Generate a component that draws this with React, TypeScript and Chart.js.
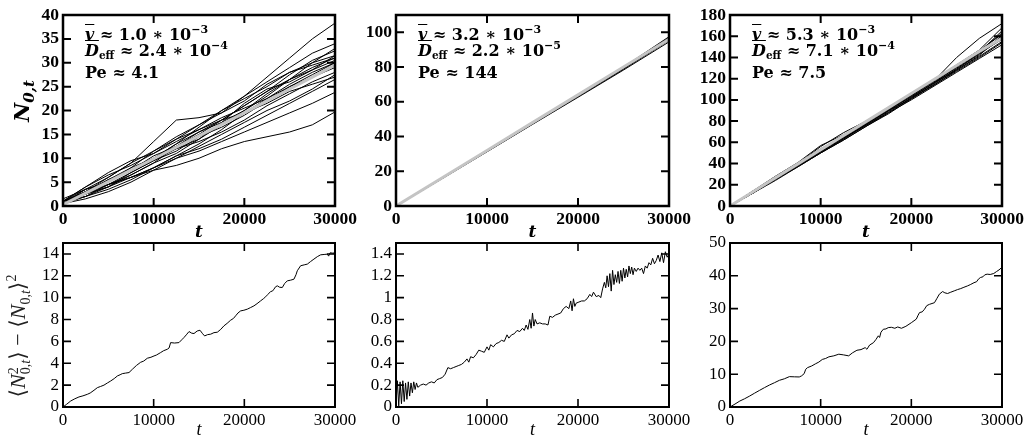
import React, { useEffect, useRef } from "react";
import { Chart, registerables } from "chart.js";
Chart.register(...registerables);

const W = 1029;
const H = 436;

// ---------- data ----------
const X_TICKS = [0, 10000, 20000, 30000];
const T_COARSE = [0, 2500, 5000, 7500, 10000, 12500, 15000, 17500, 20000, 22500, 25000, 27500, 30000];
const T_MID = [0, 5000, 10000, 15000, 20000, 25000, 30000];

const TL_MEAN = [0.3, 2.7, 5.1, 7.5, 9.9, 12.3, 14.7, 17.1, 19.5, 22, 24.5, 27, 29.5];
const TL_RUNS = [
  [0.5, 3, 6, 9, 13.5, 18, 18.5, 19.5, 23, 27, 31, 35, 38.3],
  [1, 4, 6.5, 8.5, 11, 14, 17, 20, 23, 26, 29, 32, 34],
  [0.5, 3.5, 5, 8, 10, 13, 16.5, 20, 22.5, 25, 28, 30, 33],
  [1, 2.5, 5.5, 7.5, 10.5, 12.5, 15, 18, 21, 24, 27.5, 30.5, 32.5],
  [0.5, 2, 4.5, 7, 9.5, 12, 14, 17.5, 21.5, 24.5, 26, 28.5, 31.5],
  [1, 3, 5.5, 8, 11.5, 14.5, 17, 19.5, 22, 25.5, 28, 29.5, 31],
  [0.5, 2.5, 4, 6.5, 9, 11, 14, 17, 20, 23.5, 26.5, 28.5, 30.5],
  [1, 4, 7, 9.5, 11, 13.5, 16, 18.5, 20.5, 22.5, 25, 27.5, 30],
  [0.5, 2, 3.5, 5.5, 8, 10.5, 13, 16, 19.5, 22.5, 25.5, 28, 30],
  [1, 3.5, 5, 7.5, 10, 12, 13.5, 15.5, 18, 21, 23.5, 26, 28],
  [0.5, 1.5, 3, 5, 7.5, 10, 12.5, 15, 17.5, 20, 22, 24.5, 27.5],
  [1, 3, 4.5, 6.5, 9, 12.5, 15.5, 18, 19.5, 21.5, 24, 25.5, 27],
  [0.5, 2.5, 4.5, 6, 8, 10.5, 12, 14, 16.5, 19, 21.5, 24, 26.5],
  [1, 2, 4, 6, 8, 10, 11.5, 13.5, 15.5, 17.5, 19.5, 21.5, 23.8],
  [1, 2.5, 4.5, 6, 7.5, 8.5, 10, 12, 13.5, 14.5, 15.5, 17, 19.7],
  [0.5, 3, 5.5, 7.5, 10, 13, 15.5, 17.5, 20, 23, 26.5, 30, 31.5],
  [1, 2.5, 4, 7, 9.5, 11.5, 14.5, 16.5, 19, 22, 25, 27, 29],
  [1.5, 3.5, 6, 9, 11.5, 14, 16, 18, 21, 24, 26.5, 29, 31],
];

const TM_MEAN = [0, 16, 32, 48, 64, 80, 96];
const TM_RUNS = [
  [0, 16, 32, 48, 64, 80, 97.5],
  [0, 15.8, 31.7, 47.8, 63.6, 79.5, 96.8],
  [0, 15.6, 31.5, 47.3, 63.2, 79, 96],
  [0, 15.9, 31.4, 47.2, 63, 78.8, 95.3],
  [0, 15.5, 31.2, 47, 62.6, 78.3, 94.5],
  [0, 16.1, 32.1, 47.9, 63.9, 79.8, 97],
];

const TR_MEAN = [0, 13.2, 26.5, 39.7, 53, 66.2, 79.5, 92.7, 106, 119.2, 132.5, 145.7, 158];
const TR_RUNS = [
  [0, 14, 28, 41, 57, 67, 78, 93, 104, 118, 140, 158, 172],
  [0, 13, 27, 40, 56, 69, 80, 91, 106, 119, 133, 147, 168],
  [0, 13, 26, 39, 53, 65, 79, 92, 105, 119, 132, 146, 163],
  [0, 13, 26, 39, 52, 65, 78, 91, 104, 117, 130, 144, 160],
  [0, 13, 25, 38, 51, 64, 77, 90, 103, 116, 129, 143, 158],
  [0, 12, 25, 38, 51, 63, 76, 89, 102, 114, 128, 141, 155],
  [0, 12, 24, 37, 50, 62, 75, 88, 100, 113, 126, 139, 152],
  [0, 13, 27, 39, 52, 66, 80, 91, 103, 116, 128, 142, 161],
  [0, 14, 26, 40, 54, 64, 77, 90, 106, 118, 131, 145, 165],
  [0, 12, 26, 38, 50, 63, 77, 90, 101, 115, 129, 144, 157],
  [0, 13, 25, 39, 53, 64, 76, 88, 102, 116, 131, 146, 162],
  [0, 12, 25, 37, 50, 62, 75, 87, 101, 114, 127, 140, 154],
];

const BL_T = [0, 400, 850, 1300, 1760, 2200, 2680, 3000, 3420, 3790, 4150, 4520, 4900, 5260, 5650, 6000, 6300, 6540, 6900, 7280, 7650, 8100, 8560, 8900, 9300, 9700, 10040, 10300, 10770, 11100, 11500, 11700, 11870, 12300, 12790, 13100, 13340, 13600, 13900, 14200, 14450, 14800, 15110, 15400, 15620, 15950, 16290, 16650, 17020, 17400, 17750, 18100, 18490, 18800, 19040, 19300, 19590, 19950, 20330, 20700, 21060, 21400, 21800, 22100, 22350, 22600, 22900, 23100, 23270, 23450, 23640, 23900, 24190, 24450, 24740, 25100, 25470, 25700, 25840, 26210, 26600, 26950, 27300, 27680, 28050, 28420, 28800, 29150, 29300, 29450, 29700, 29850, 30000];
const BL_V = [0, 0.25, 0.55, 0.75, 0.92, 1.02, 1.16, 1.28, 1.53, 1.77, 1.88, 2.0, 2.2, 2.38, 2.6, 2.84, 2.95, 3.05, 3.1, 3.15, 3.45, 3.8, 4.09, 4.2, 4.46, 4.55, 4.67, 4.75, 4.98, 5.15, 5.28, 5.4, 5.89, 5.85, 5.89, 6.15, 6.35, 6.6, 6.9, 6.75, 6.72, 6.95, 7.02, 6.7, 6.5, 6.62, 6.66, 6.8, 6.84, 7.1, 7.42, 7.65, 7.94, 8.1, 8.34, 8.6, 8.79, 8.85, 8.95, 9.1, 9.25, 9.45, 9.71, 9.9, 10.08, 10.3, 10.56, 10.6, 10.78, 11.0, 11.08, 10.95, 10.93, 11.3, 11.54, 11.6, 11.69, 12.1, 12.46, 12.92, 13.0, 13.07, 13.3, 13.53, 13.75, 13.92, 13.95, 13.98, 13.8, 14.1, 14.08, 14.05, 14.29];

const BM_T = [0, 150, 300, 450, 600, 750, 900, 1050, 1200, 1350, 1500, 1650, 1800, 1950, 2100, 2250, 2400, 2700, 3000, 3300, 3600, 3900, 4200, 4500, 4800, 5100, 5400, 5700, 6000, 6300, 6600, 6900, 7200, 7500, 7800, 8000, 8200, 8500, 8800, 9100, 9400, 9700, 10000, 10200, 10400, 10700, 11000, 11300, 11600, 11900, 12200, 12400, 12700, 13000, 13300, 13600, 13900, 14100, 14300, 14500, 14700, 14850, 15000, 15150, 15300, 15500, 15800, 16100, 16400, 16700, 16900, 17200, 17500, 17800, 18100, 18400, 18700, 19000, 19200, 19350, 19500, 19650, 19800, 20100, 20400, 20700, 21000, 21300, 21500, 21700, 22000, 22300, 22500, 22700, 22900, 23050, 23200, 23350, 23500, 23650, 23800, 23950, 24100, 24250, 24400, 24550, 24700, 24850, 25000, 25150, 25300, 25450, 25600, 25750, 25900, 26050, 26200, 26400, 26600, 26800, 27000, 27200, 27400, 27600, 27800, 28000, 28200, 28400, 28600, 28800, 29000, 29200, 29400, 29600, 29800, 30000];
const BM_V = [0.02, 0.24, 0.01, 0.23, 0.03, 0.24, 0.05, 0.22, 0.07, 0.23, 0.1, 0.22, 0.13, 0.23, 0.16, 0.22, 0.18, 0.2, 0.21, 0.2, 0.22, 0.23, 0.22, 0.25, 0.26, 0.27, 0.3, 0.36, 0.35, 0.36, 0.37, 0.38, 0.39, 0.41, 0.44, 0.41, 0.46, 0.45, 0.48, 0.52, 0.51, 0.5, 0.55, 0.52, 0.57, 0.55, 0.58, 0.59, 0.61, 0.6, 0.66, 0.63, 0.66, 0.67, 0.7, 0.69, 0.72, 0.7, 0.75, 0.71, 0.8, 0.72, 0.86, 0.74, 0.8, 0.76, 0.77, 0.76, 0.76, 0.75, 0.83, 0.82, 0.84, 0.85, 0.86, 0.9, 0.92, 0.9, 0.97, 0.88, 0.99, 0.92, 0.95, 0.96, 0.97, 0.97, 0.99, 1.03, 1.01, 1.05, 1.01, 1.02, 1.0, 1.08, 1.14, 1.09, 1.2, 1.1, 1.22, 1.06, 1.25, 1.12, 1.21, 1.14, 1.24, 1.13, 1.25, 1.15, 1.27, 1.18, 1.26, 1.19, 1.29, 1.22, 1.28, 1.21, 1.27, 1.24, 1.27, 1.25, 1.27, 1.22, 1.29, 1.27, 1.32, 1.3, 1.36, 1.31, 1.34, 1.39, 1.33, 1.41, 1.32, 1.42, 1.37, 1.4];

const BR_T = [0, 550, 1090, 1600, 2180, 2700, 3270, 3800, 4360, 4900, 5450, 6000, 6550, 7100, 7640, 7900, 8180, 8350, 8550, 9000, 9450, 9800, 10180, 10550, 10910, 11450, 12000, 12500, 13090, 13500, 14000, 14450, 14910, 15100, 15400, 15820, 16100, 16360, 16500, 16650, 16910, 17200, 17450, 17800, 18180, 18500, 18910, 19400, 20000, 20550, 20750, 20910, 21200, 21450, 21700, 22000, 22550, 22800, 23090, 23450, 23700, 24000, 24350, 24730, 25100, 25450, 25800, 26180, 26500, 26910, 27200, 27400, 27640, 27900, 28100, 28360, 28700, 29090, 29400, 29670, 30000];
const BR_V = [0, 0.9, 1.83, 2.5, 3.36, 4.2, 5.09, 5.9, 6.71, 7.4, 8.14, 8.6, 9.26, 9.2, 9.16, 9.5, 10.17, 11.5, 12.0, 12.5, 13.2, 13.7, 14.5, 14.8, 15.3, 15.6, 16.1, 15.9, 15.6, 16.5, 17.3, 17.5, 18.1, 17.6, 18.9, 19.6, 20.6, 21.7, 21.2, 22.8, 23.7, 23.8, 24.2, 24.3, 24.0, 24.4, 24.0, 24.6, 25.7, 26.8, 28.0, 28.8, 29.0, 29.8, 30.9, 31.3, 31.8, 33.0, 34.4, 35.2, 34.8, 34.6, 35.0, 35.4, 35.8, 36.1, 36.5, 36.9, 37.3, 37.9, 38.2, 39.0, 39.5, 39.7, 40.3, 40.5, 40.4, 40.7, 41.3, 41.8, 42.6];

const ANNOT_V = ["1.0", "3.2", "5.3"];
const ANNOT_VEXP = ["3", "3", "3"];
const ANNOT_D = ["2.4", "2.2", "7.1"];
const ANNOT_DEXP = ["4", "5", "4"];
const ANNOT_PE = ["4.1", "144", "7.5"];

// ---------- layout ----------
const COLS = [
  { left: 63, right: 335 },
  { left: 396, right: 669 },
  { left: 730, right: 1002 },
];
const ROWS = [
  { top: 15, bottom: 206 },
  { top: 243, bottom: 407 },
];
const YW = 50;
const XH = 25;

type Series = { t: number[]; v: number[]; color: string; width: number };
type PanelCfg = {
  col: number;
  row: number;
  yMax: number;
  yStep: number;
  series: Series[];
  bold: boolean;
};

const frameTicks = {
  id: "frameTicks",
  afterDraw(chart: any, _a: any, opts: any) {
    const { ctx, chartArea } = chart;
    const { left, right, top, bottom } = chartArea;
    const xs = chart.scales.x;
    const ys = chart.scales.y;
    const len = opts.tickLen;
    ctx.save();
    ctx.strokeStyle = "#000";
    ctx.lineWidth = opts.tickWidth;
    ctx.beginPath();
    for (const t of xs.ticks) {
      const p = xs.getPixelForValue(t.value);
      ctx.moveTo(p, bottom);
      ctx.lineTo(p, bottom - len);
      ctx.moveTo(p, top);
      ctx.lineTo(p, top + len);
    }
    for (const t of ys.ticks) {
      const p = ys.getPixelForValue(t.value);
      ctx.moveTo(left, p);
      ctx.lineTo(left + len, p);
      ctx.moveTo(right, p);
      ctx.lineTo(right - len, p);
    }
    ctx.stroke();
    ctx.lineWidth = opts.frameWidth;
    ctx.strokeRect(left, top, right - left, bottom - top);
    ctx.restore();
  },
};

function fmt(v: number) {
  return String(Math.round(v * 100) / 100);
}

function buildConfig(p: PanelCfg): any {
  const c = COLS[p.col];
  const r = ROWS[p.row];
  const font = p.bold
    ? { family: '"Liberation Serif", serif', size: 17.5, weight: "bold" as const }
    : { family: '"Liberation Serif", serif', size: 17, weight: "normal" as const };
  return {
    type: "line",
    data: {
      datasets: p.series.map((s) => ({
        data: s.t.map((t, i) => ({ x: t, y: s.v[i] })),
        borderColor: s.color,
        borderWidth: s.width,
        pointRadius: 0,
        tension: 0,
        fill: false,
      })),
    },
    plugins: [frameTicks],
    options: {
      responsive: false,
      animation: false,
      events: [],
      layout: {
        autoPadding: false,
        padding: {
          left: c.left - YW,
          right: W - c.right,
          top: r.top,
          bottom: H - r.bottom - XH,
        },
      },
      plugins: {
        legend: { display: false },
        tooltip: { enabled: false },
        frameTicks: {
          tickLen: 8,
          tickWidth: p.bold ? 2 : 1.6,
          frameWidth: p.bold ? 2.5 : 2,
        },
      },
      scales: {
        x: {
          type: "linear",
          min: 0,
          max: 30000,
          grid: { display: false, drawTicks: false },
          border: { display: false },
          afterBuildTicks: (s: any) => {
            s.ticks = X_TICKS.map((v) => ({ value: v }));
          },
          ticks: {
            padding: 3,
            color: "#000",
            font,
            maxRotation: 0,
            autoSkip: false,
            callback: (v: number) => String(v),
          },
          afterFit: (s: any) => {
            s.height = XH;
            s.paddingLeft = 0;
            s.paddingRight = 0;
          },
        },
        y: {
          type: "linear",
          min: 0,
          max: p.yMax,
          grid: { display: false, drawTicks: false },
          border: { display: false },
          ticks: {
            stepSize: p.yStep,
            includeBounds: false,
            padding: 4,
            color: "#000",
            font,
            autoSkip: false,
            callback: (v: number) => fmt(v),
          },
          afterFit: (s: any) => {
            s.width = YW;
            s.paddingTop = 0;
            s.paddingBottom = 0;
          },
        },
      },
    },
  };
}

function runs(t: number[], list: number[][], mean: number[]): Series[] {
  return [
    { t, v: mean, color: "#c4c4c4", width: 3 },
    ...list.map((v) => ({ t, v, color: "#000", width: 1 })),
  ];
}

const PANELS: PanelCfg[] = [
  { col: 0, row: 0, yMax: 40, yStep: 5, bold: true, series: runs(T_COARSE, TL_RUNS, TL_MEAN) },
  { col: 1, row: 0, yMax: 110, yStep: 20, bold: true, series: runs(T_MID, TM_RUNS, TM_MEAN) },
  { col: 2, row: 0, yMax: 180, yStep: 20, bold: true, series: runs(T_COARSE, TR_RUNS, TR_MEAN) },
  { col: 0, row: 1, yMax: 15, yStep: 2, bold: false, series: [{ t: BL_T, v: BL_V, color: "#000", width: 1 }] },
  { col: 1, row: 1, yMax: 1.5, yStep: 0.2, bold: false, series: [{ t: BM_T, v: BM_V, color: "#000", width: 1 }] },
  { col: 2, row: 1, yMax: 50, yStep: 10, bold: false, series: [{ t: BR_T, v: BR_V, color: "#000", width: 1 }] },
];

function PanelChart({ cfg }: { cfg: PanelCfg }) {
  const ref = useRef<HTMLCanvasElement>(null);
  useEffect(() => {
    const chart = new Chart(ref.current as HTMLCanvasElement, buildConfig(cfg));
    return () => chart.destroy();
  }, [cfg]);
  return (
    <canvas
      ref={ref}
      width={W}
      height={H}
      style={{ position: "absolute", left: 0, top: 0, width: W, height: H }}
    />
  );
}

const BOLD_FONT = '"DejaVu Serif", serif';
const ROMAN_FONT = '"Liberation Serif", "DejaVu Serif", serif';

function Bar({ ch }: { ch: string }) {
  return <span style={{ textDecoration: "overline", fontStyle: "italic" }}>{ch}</span>;
}

function Annot({ i }: { i: number }) {
  const x = COLS[i].left + 22;
  const base: React.CSSProperties = {
    position: "absolute",
    left: x,
    whiteSpace: "nowrap",
    fontFamily: BOLD_FONT,
    fontWeight: "bold",
    fontSize: 16,
    lineHeight: "16px",
    color: "#000",
  };
  const sup: React.CSSProperties = { fontSize: 11, position: "relative", top: -7 };
  return (
    <>
      <div style={{ ...base, top: 27 }}>
        <Bar ch="v" /> ≈ {ANNOT_V[i]} ∗ 10<span style={sup}>−{ANNOT_VEXP[i]}</span>
      </div>
      <div style={{ ...base, top: 43 }}>
        <Bar ch="D" />
        <span style={{ fontSize: 10.5, position: "relative", top: 3 }}>eff</span> ≈ {ANNOT_D[i]} ∗ 10
        <span style={sup}>−{ANNOT_DEXP[i]}</span>
      </div>
      <div style={{ ...base, top: 65 }}>Pe ≈ {ANNOT_PE[i]}</div>
    </>
  );
}

function Rot({ cx, cy, children, style }: { cx: number; cy: number; children: any; style: React.CSSProperties }) {
  return (
    <div
      style={{
        position: "absolute",
        left: cx,
        top: cy,
        transform: "translate(-50%, -50%) rotate(-90deg)",
        whiteSpace: "nowrap",
        color: "#000",
        ...style,
      }}
    >
      {children}
    </div>
  );
}

function XTitle({ col, row }: { col: number; row: number }) {
  const c = COLS[col];
  const cx = (c.left + c.right) / 2;
  const bold = row === 0;
  return (
    <div
      style={{
        position: "absolute",
        left: cx,
        top: bold ? 231 : 429,
        transform: "translate(-50%, -50%)",
        fontFamily: bold ? BOLD_FONT : ROMAN_FONT,
        fontWeight: bold ? "bold" : "normal",
        fontStyle: "italic",
        fontSize: bold ? 17 : 18,
        lineHeight: "18px",
        color: "#000",
      }}
    >
      t
    </div>
  );
}

export default function App() {
  useEffect(() => {
    document.body.style.margin = "0";
  }, []);
  return (
    <div style={{ position: "fixed", left: 0, top: 0, width: W, height: H, background: "#fff", overflow: "hidden" }}>
      {PANELS.map((p, i) => (
        <PanelChart key={i} cfg={p} />
      ))}
      {[0, 1, 2].map((i) => (
        <Annot key={"a" + i} i={i} />
      ))}
      {[0, 1, 2].map((c) => (
        <XTitle key={"xt" + c} col={c} row={0} />
      ))}
      {[0, 1, 2].map((c) => (
        <XTitle key={"xb" + c} col={c} row={1} />
      ))}
      <Rot cx={21} cy={101} style={{ fontFamily: BOLD_FONT, fontWeight: "bold", fontStyle: "italic", fontSize: 21 }}>
        N<span style={{ fontSize: 15, position: "relative", top: 5 }}>0,t</span>
      </Rot>
      <Rot cx={18} cy={336} style={{ fontFamily: ROMAN_FONT, fontSize: 22, color: "#222" }}>
        ⟨<i>N</i>
        <span
          style={{
            display: "inline-flex",
            flexDirection: "column",
            fontSize: 14,
            lineHeight: "12px",
            verticalAlign: "middle",
          }}
        >
          <span>2</span>
          <span>
            0,<i>t</i>
          </span>
        </span>
        ⟩ − ⟨<i>N</i>
        <span style={{ fontSize: 14, position: "relative", top: 5 }}>
          0,<i>t</i>
        </span>
        ⟩<span style={{ fontSize: 14, position: "relative", top: -9 }}>2</span>
      </Rot>
    </div>
  );
}
